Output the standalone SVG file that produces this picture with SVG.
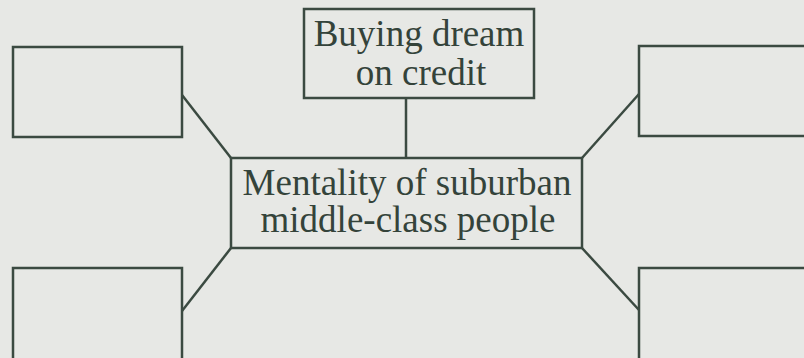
<svg xmlns="http://www.w3.org/2000/svg" width="804" height="358" viewBox="0 0 804 358">
<style>
.box{fill:none;stroke:#3b4a41;stroke-width:2.5}
.conn line{stroke:#3b4a41;stroke-width:2.5}
.lbl{font-family:"Liberation Serif","Times New Roman",serif;font-size:37px;fill:#34433a;text-anchor:middle}
</style>
<rect width="804" height="358" fill="#e7e8e5"/>
<g class="conn">
<line x1="182" y1="95" x2="231" y2="158"/>
<line x1="406" y1="98" x2="406" y2="158"/>
<line x1="582" y1="158" x2="639" y2="94"/>
<line x1="231" y1="248" x2="182" y2="311"/>
<line x1="582" y1="248" x2="639" y2="310"/>
</g>
<g id="node-top">
<rect class="box" x="304" y="9" width="230" height="89"/>
<text class="lbl" x="419" y="46">Buying dream</text>
<text class="lbl" x="421" y="85">on credit</text>
</g>
<g id="node-center">
<rect class="box" x="231" y="158" width="351" height="90"/>
<text class="lbl" x="407" y="195">Mentality of suburban</text>
<text class="lbl" x="408" y="232">middle-class people</text>
</g>
<g id="node-top-left">
<rect class="box" x="13" y="47" width="169" height="90"/>
</g>
<g id="node-top-right">
<rect class="box" x="639" y="46" width="180" height="90"/>
</g>
<g id="node-bottom-left">
<rect class="box" x="13" y="268" width="169" height="100"/>
</g>
<g id="node-bottom-right">
<rect class="box" x="639" y="268" width="180" height="100"/>
</g>
</svg>
